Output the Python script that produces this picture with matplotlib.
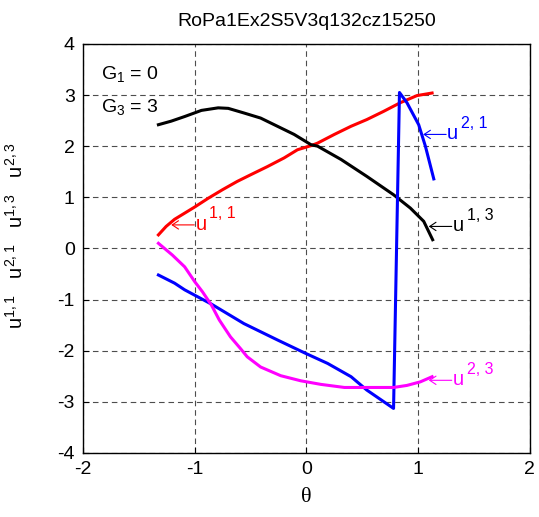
"""u-curves against theta for the RoPa1Ex2S5V3q132cz15250 case"""

import matplotlib
matplotlib.use('Agg')
import matplotlib.pyplot as plt

plt.rcParams['font.family'] = ['Liberation Sans', 'DejaVu Sans']
plt.rcParams['mathtext.fontset'] = 'custom'
plt.rcParams['mathtext.rm'] = 'Liberation Sans'
plt.rcParams['mathtext.it'] = 'Liberation Sans'
plt.rcParams['axes.unicode_minus'] = False

title = 'RoPa1Ex2S5V3q132cz15250'

theta_11 = [-1.325, -1.256, -1.18, -1.09, -1.0, -0.88, -0.75, -0.62, -0.5,
            -0.35, -0.2, -0.08, 0.04, 0.1, 0.25, 0.4, 0.54, 0.69, 0.84,
            0.99, 1.125]
u_11 = [0.265, 0.43, 0.57, 0.69, 0.81, 0.98, 1.15, 1.31, 1.44, 1.6, 1.77,
        1.93, 2.01, 2.06, 2.23, 2.39, 2.52, 2.68, 2.85, 2.99, 3.04]

theta_13 = [-1.325, -1.21, -1.09, -0.94, -0.79, -0.7, -0.56, -0.41, -0.26,
            -0.11, 0.04, 0.1, 0.31, 0.54, 0.78, 0.93, 1.05, 1.13]
u_13 = [2.42, 2.49, 2.58, 2.7, 2.75, 2.74, 2.65, 2.55, 2.39, 2.23, 2.03,
        2.0, 1.74, 1.41, 1.05, 0.79, 0.53, 0.17]

theta_21 = [-1.325, -1.18, -1.09, -0.85, -0.56, -0.26, -0.02, 0.19, 0.4,
            0.54, 0.78, 0.833, 0.9, 1.005, 1.065, 1.14]
u_21 = [-0.52, -0.68, -0.81, -1.09, -1.47, -1.79, -2.04, -2.25, -2.51,
        -2.77, -3.13, 3.05, 2.85, 2.42, 2.0, 1.36]

theta_23 = [-1.325, -1.2, -1.09, -1.0, -0.93, -0.85, -0.78, -0.68, -0.59,
            -0.53, -0.41, -0.23, -0.05, 0.13, 0.34, 0.78, 0.9, 1.02, 1.125]
u_23 = [0.1, -0.13, -0.36, -0.65, -0.85, -1.11, -1.4, -1.73, -1.96, -2.12,
        -2.32, -2.49, -2.59, -2.66, -2.72, -2.72, -2.68, -2.61, -2.51]

# curve labels: (theta, u, superscript, colour)
labels = [
    (-1.21, 0.46, '1, 1', 'red'),
    (1.095, 0.43, '1, 3', 'black'),
    (1.045, 2.23, '2, 1', 'blue'),
    (1.095, -2.58, '2, 3', 'magenta'),
]


def arrow_label(ax, x, y, sup, color):
    """Draw '<-- u^sup' with the arrow tip at (x, y)"""
    ax.annotate('', xy=(x, y), xytext=(23, 0), textcoords='offset pixels',
                arrowprops=dict(arrowstyle='->,head_length=0.45,head_width=0.3',
                                color=color, lw=0.8, shrinkA=0, shrinkB=0))
    ax.annotate('u', xy=(x, y), xytext=(24, -5), textcoords='offset pixels',
                color=color, fontsize=14.5, ha='left', va='baseline')
    ax.annotate(sup, xy=(x, y), xytext=(38, 6.5), textcoords='offset pixels',
                color=color, fontsize=11.5, ha='left', va='baseline')


fig = plt.figure(figsize=(5.39, 5.17), dpi=100)
ax = fig.add_axes([0.154, 0.124, 0.829, 0.791])

ax.plot(theta_11, u_11, color='red', lw=2.2)
ax.plot(theta_13, u_13, color='black', lw=2.2)
ax.plot(theta_21, u_21, color='blue', lw=2.2)
ax.plot(theta_23, u_23, color='magenta', lw=2.2)

for x, y, sup, col in labels:
    arrow_label(ax, x, y, sup, col)

ax.text(-1.84, 3.42, 'G$_1$ = 0', fontsize=14, va='center')
ax.text(-1.84, 2.76, 'G$_3$ = 3', fontsize=14, va='center')

ax.set_xlim(-2, 2)
ax.set_ylim(-4, 4)
ax.set_xticks([-2, -1, 0, 1, 2])
ax.set_yticks(range(-4, 5))
ax.tick_params(direction='in', labelsize=14, length=4, pad=6)
ax.grid(True, color='0.3', linestyle=(0, (5, 3.5)), linewidth=0.8)
for s in ax.spines.values():
    s.set_linewidth(1.0)

ax.set_title(title, fontsize=14, pad=13)
ax.set_xlabel('θ', fontsize=16, family='Liberation Serif', labelpad=7)
ax.set_ylabel('u$^{1,1}$   u$^{2,1}$   u$^{1,3}$   u$^{2,3}$',
              fontsize=14.5)
ax.yaxis.set_label_coords(-0.125, 0.53)

fig.savefig('out.png', dpi=100)
